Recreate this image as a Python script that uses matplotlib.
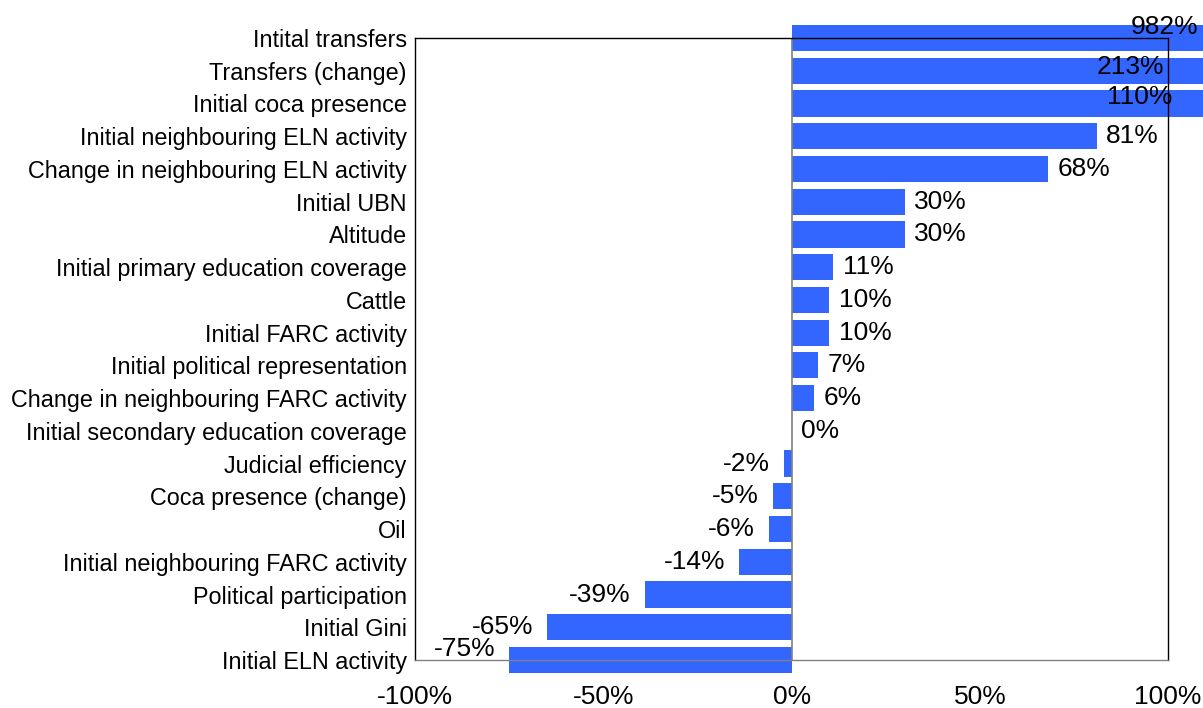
import matplotlib
matplotlib.use("Agg")
import matplotlib.pyplot as plt

plt.rcParams['font.family'] = ['Liberation Sans', 'DejaVu Sans']

categories = [
    "Intital transfers",
    "Transfers (change)",
    "Initial coca presence",
    "Initial neighbouring ELN activity",
    "Change in neighbouring ELN activity",
    "Initial UBN",
    "Altitude",
    "Initial primary education coverage",
    "Cattle",
    "Initial FARC activity",
    "Initial political representation",
    "Change in neighbouring FARC activity",
    "Initial secondary education coverage",
    "Judicial efficiency",
    "Coca presence (change)",
    "Oil",
    "Initial neighbouring FARC activity",
    "Political participation",
    "Initial Gini",
    "Initial ELN activity",
]
values = [982, 213, 110, 81, 68, 30, 30, 11, 10, 10, 7, 6, 0,
          -2, -5, -6, -14, -39, -65, -75]

BAR_COLOR = "#3366ff"
XMIN, XMAX = -100, 100

fig = plt.figure(figsize=(12.03, 7.08), dpi=100)
ax = fig.add_axes([0.345, 0.0678, 0.626, 0.8785])

ypos = list(range(len(values)))
shown = [max(min(v, XMAX + 10), XMIN - 10) for v in values]
bars = ax.barh(ypos, shown, height=0.8, color=BAR_COLOR, clip_on=False, zorder=1)

ax.axvline(0, color="#808080", lw=1.2, zorder=2)

ax.set_xlim(XMIN, XMAX)
ax.set_ylim(len(values) - 1, 0)
ax.set_yticks(ypos)
ax.set_yticklabels(categories, fontsize=16.8)
ax.set_xticks([-100, -50, 0, 50, 100])
ax.set_xticklabels([f"{t}%" for t in [-100, -50, 0, 50, 100]], fontsize=19)
ax.tick_params(axis="both", length=0)
ax.tick_params(axis="y", pad=6)
ax.tick_params(axis="x", pad=18)
for tl in ax.get_yticklabels():
    tl.set_va("center_baseline")
for s in ax.spines.values():
    s.set_linewidth(1.0)
    s.set_color("black")
ax.spines["bottom"].set_color("#808080")

# value labels (clipped bars get labels inside the plot edge, like the original)
LABEL_FS = 19
for i, v in enumerate(values):
    txt = f"{v}%"
    if v > XMAX:
        # right-aligned near the axis edge
        edge = {0: 108, 1: 99, 2: 101}[i]
        dy = {0: 8, 1: 3, 2: 5}[i]
        ax.annotate(txt, (edge, i), xytext=(0, dy), textcoords="offset points",
                    ha="right", va="center", fontsize=LABEL_FS, zorder=5,
                    annotation_clip=False)
    elif v >= 0:
        ax.annotate(txt, (v, i), xytext=(7, 0), textcoords="offset points",
                    ha="left", va="center", fontsize=LABEL_FS, zorder=5)
    else:
        dy = 8 if i == len(values) - 1 else 0
        ax.annotate(txt, (v, i), xytext=(-10, dy), textcoords="offset points",
                    ha="right", va="center", fontsize=LABEL_FS, zorder=5)

fig.savefig("out.png", dpi=100)
